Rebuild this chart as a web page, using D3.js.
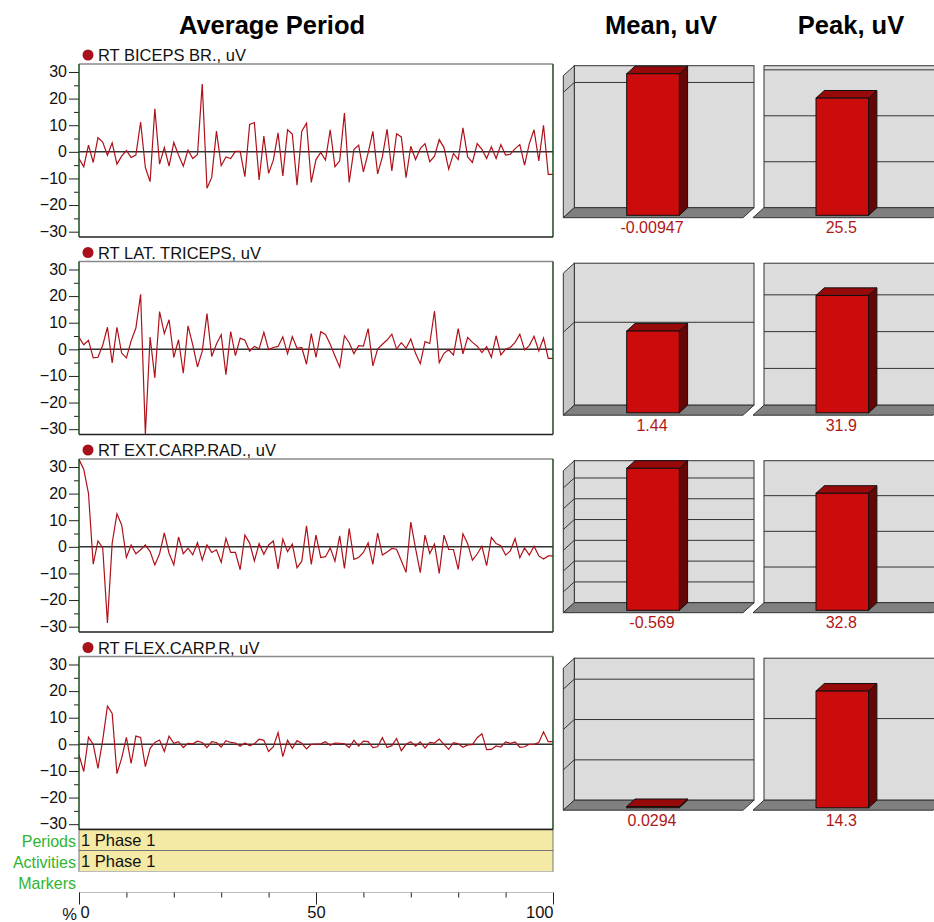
<!DOCTYPE html>
<html>
<head>
<meta charset="utf-8">
<script src="https://cdn.jsdelivr.net/npm/d3@7"></script>
<style>
  html, body { margin: 0; padding: 0; background: #fff; }
  svg { display: block; font-family: Arial, "Liberation Sans", sans-serif; }
</style>
</head>
<body>
<svg id="chart" width="934" height="922"></svg>
<script>
// Channel names (one row each)
const channels = ["RT BICEPS BR., uV", "RT LAT. TRICEPS, uV", "RT EXT.CARP.RAD., uV", "RT FLEX.CARP.R, uV"];

// Averaged waveforms, one value per percent of the period (0..100)
const bicepsValues = [
  -2.5, -5.6, 2.5, -4, 5.3, 3.7, -1.3, 3.4, -4.6, -1.6,
  0.5, -2.1, -1.2, 11.2, -5.9, -11.2, 16.2, -4.6, 1.6, -5.4,
  3.5, -1.2, -5.4, 0.7, -2.5, -1.0, 25.5, -13.7, -9.6, 7.8,
  -5.2, -1.9, -2.5, 0.2, 0.2, -9.3, 10.3, 11, -10.6, 5.9,
  -8.1, -3.1, 7.1, -9.1, 8.3, 6.7, -12.5, 7.8, 10.8, -11.5,
  -2.9, -0.2, -3.1, 8.3, -5.6, -3.4, 14.6, -11.5, 0.9, 2.5,
  -7.5, -0.4, 7.7, -8.3, -1.9, 8.5, -7.2, 6.8, 5.6, -9.7,
  2.1, -2.9, 1.2, 3.1, -3.7, -1.6, 4.6, 1.6, -6.5, -0.6,
  -2.9, 9, -1.9, -4, 3.1, 0.9, -2.5, 1.9, -2.5, 2.7,
  -1.2, -0.9, 1.2, 2.7, -5, 3.1, 8.3, -3.4, 10, -8.5, -8.5
];
const tricepsValues = [
  4.5, 1.7, 3.4, -3.2, -3, 1.5, 8.3, -5.1, 8.3, -1.4,
  -3.2, 3.2, 8, 20.7, -31.9, 4.6, -10.7, 14.2, 5.9, 11.1,
  -3, 3.6, -9, 8.8, 1.7, -6.6, -0.7, 13.4, -2.7, 2,
  5.5, -9.5, 6.7, -2.4, 4.2, 3.4, -0.7, 1.1, 0.2, 6.4,
  -0.1, 0.7, 1.1, 4.7, -1.7, 4.8, 0.4, 0.7, -5.6, 5.9,
  -3, 6.6, 5.6, 1.9, -2.5, -6.7, 5.1, 2.5, -1.6, 1.4,
  1.2, 7.8, -6.2, 0.1, 1.9, 3.5, 5.7, 0.1, 2.5, 0.4,
  3.9, -1.5, -5.4, 2.9, 2.2, 14.4, -5, -1.5, -0.2, -2.1,
  7.8, -1.7, 4.5, 2.6, 1.2, -1.2, 1, -3, 5.1, -2.1,
  0.1, 0.7, 2.6, 5.7, -0.2, 1.4, 4.9, -0.6, 4.2, -3.4, -3.4
];
const extCarpValues = [
  32.8, 29.2, 20.1, -6.5, 2.2, -0.3, -28.6, 1.4, 12.4, 8.2,
  -4, 0.7, -2.6, -1.1, 0.7, -1.8, -6.8, -2.6, 5.2, -2.4,
  -6.8, 3.7, -2.6, -0.5, -3, 1.6, -5, 0.7, -2.1, -1.1,
  -5.8, 3.2, -2.1, -2.1, -8.6, 4.4, 1.4, -5.3, 1.2, -2.8,
  0.7, 2.2, -8.3, 2.9, -1.8, 1, -7.9, -5.4, 7.9, -6.6,
  4.4, -4, -3.7, -0.4, -5.4, 4.1, -8.1, 6.9, -4.7, -4,
  -2.1, 1.5, -6.6, 5.2, -3.1, -1.9, -0.6, -0.9, -5.2, -9.6,
  9.3, -0.6, -9.7, 4.4, -2.5, 1, -10, 4.4, -1, -1,
  -8.5, 4.9, 1.2, -5, -2.7, 0.2, -7.1, 3.5, 1.2, 0.4,
  -3.1, -1.5, 3.1, -4.1, -0.4, -3.1, 0.2, -3.4, -4.6, -3.4, -3.4
];
const flexCarpValues = [
  -4, -10.2, 2.7, 0, -9, 1.6, 14.3, 11.6, -11, -5.2,
  2.6, -7.2, 3.1, 2.6, -8.4, -1.5, 0.7, 1.6, -2.7, 3.1,
  0.4, 1, -1.2, 0.4, 0.2, 1.2, 0.7, -1.2, 1, 0.7,
  -1, 1.4, 0.7, 0.5, -0.7, 0.5, -0.6, 0.2, 1.9, 1.5,
  -2.7, -0.9, 4.4, -4.6, 1.5, -1.5, 1.4, 0.4, -1.7, 0,
  0.1, 0.2, 1, -0.4, 0.5, 0.4, 0.2, -1.2, 1.5, -0.7,
  1.2, 1, -1.2, -0.9, 2.5, -1.2, -0.5, 2.2, -2.4, 0,
  1, -0.7, 0.9, -1.4, 0.7, 0.5, 2, 0, -1.9, 0.6,
  0.2, -1.1, -0.2, -0.1, 2.5, 4, -2, -1.9, -0.6, -1,
  0.9, 0.4, 0.9, -1.1, -0.9, 0, 0, 0.7, 4.7, 1, 1
];
const waveforms = [bicepsValues, tricepsValues, extCarpValues, flexCarpValues];

// Summary values shown in the bar columns
const meanValues = [-0.00947, 1.44, -0.569, 0.0294];
const peakValues = [25.5, 31.9, 32.8, 14.3];
// Each small bar chart has its own vertical axis
const meanAxisMax = [0.0095, 2.5, 0.569, 3.52];
const meanGridStep = [0.00838, 1.46, 0.0833, 1.0];
const peakAxisMax = [30.9, 38.6, 39.8, 17.4];
const peakGridStep = [10, 10, 10, 10];

// Axis ticks
const yTickValues = [30, 20, 10, 0, -10, -20, -30];
const yMinorValues = [25, 15, 5, -5, -15, -25];
const xTickValues = [0, 50, 100];
const xMinorValues = [10, 20, 30, 40, 60, 70, 80, 90];

// Phase rows under the waveforms
const rowLabels = ["Periods", "Activities", "Markers"];
const rowTexts = ["1 Phase 1", "1 Phase 1", ""];

const headers = [
  { text: "Average Period", x: 272 },
  { text: "Mean, uV", x: 661 },
  { text: "Peak, uV", x: 851 }
];

// ---------------- layout ----------------
const svg = d3.select("#chart");
const plotLeft = 79, plotRight = 553;
const plotH = 173, rowPitch = 197.5, firstTop = 64;
const lineColor = "#ae111a";
const fontFamily = "Arial, 'Liberation Sans', sans-serif";

const x = d3.scaleLinear().domain([0, 100]).range([plotLeft, plotRight]);

svg.selectAll("text.header")
  .data(headers)
  .join("text")
  .attr("class", "header")
  .attr("x", d => d.x)
  .attr("y", 34)
  .attr("text-anchor", "middle")
  .attr("font-size", 25.5)
  .attr("font-weight", "bold")
  .attr("fill", "#000")
  .text(d => d.text);

const defs = svg.append("defs");

channels.forEach((name, k) => {
  const top = firstTop + k * rowPitch;
  const y = d3.scaleLinear().domain([-32, 33]).range([top + plotH, top]);
  const g = svg.append("g");

  defs.append("clipPath").attr("id", "clip" + k)
    .append("rect").attr("x", plotLeft).attr("y", top).attr("width", plotRight - plotLeft).attr("height", plotH);

  // plot frame
  g.append("rect").attr("x", plotLeft).attr("y", top).attr("width", plotRight - plotLeft).attr("height", plotH)
    .attr("fill", "#fff");

  // title with channel dot
  g.append("circle").attr("cx", 88).attr("cy", top - 9).attr("r", 5.5).attr("fill", "#a8101a");
  g.append("text").attr("x", 98).attr("y", top - 3).attr("font-size", 16.5).attr("fill", "#111").text(name);

  // y axis
  const yAxis = d3.axisLeft(y).tickValues(yTickValues).tickSize(10).tickPadding(2).tickFormat(d3.format("d"));
  const ax = g.append("g").attr("transform", `translate(${plotLeft},0)`).call(yAxis);
  ax.select(".domain").remove();
  ax.selectAll(".tick line").attr("stroke", "#222");
  ax.selectAll(".tick text").attr("font-size", 16).attr("fill", "#111").attr("font-family", fontFamily)
    .attr("dy", "0.3em");
  const yMinor = d3.axisLeft(y).tickValues(yMinorValues).tickSize(5).tickFormat("");
  const axm = g.append("g").attr("transform", `translate(${plotLeft},0)`).call(yMinor);
  axm.select(".domain").remove();
  axm.selectAll(".tick line").attr("stroke", "#222");

  // zero line
  g.append("line").attr("x1", plotLeft).attr("x2", plotRight).attr("y1", y(0)).attr("y2", y(0))
    .attr("stroke", "#333").attr("stroke-width", 1.5);

  // waveform
  const line = d3.line().x((d, i) => x(i)).y(d => y(d));
  g.append("path").datum(waveforms[k])
    .attr("clip-path", `url(#clip${k})`)
    .attr("d", line).attr("fill", "none").attr("stroke", lineColor).attr("stroke-width", 1.2)
    .attr("stroke-linejoin", "miter");

  // borders: top grey, bottom dark, sides dark green
  g.append("line").attr("x1", plotLeft).attr("x2", plotRight).attr("y1", top).attr("y2", top)
    .attr("stroke", "#8a8a8a").attr("stroke-width", 1.5);
  g.append("line").attr("x1", plotLeft).attr("x2", plotRight).attr("y1", top + plotH).attr("y2", top + plotH)
    .attr("stroke", "#222").attr("stroke-width", 1.5);
  g.append("line").attr("x1", plotLeft).attr("x2", plotLeft).attr("y1", top).attr("y2", top + plotH)
    .attr("stroke", "#1b4a1b").attr("stroke-width", 1.5);
  g.append("line").attr("x1", plotRight).attr("x2", plotRight).attr("y1", top).attr("y2", top + plotH)
    .attr("stroke", "#1b4a1b").attr("stroke-width", 1.5);

  // ---- 3D bar panels ----
  const wallTop = firstTop + 1.7 + k * rowPitch;
  const wallH = 142;
  const depthX = 11, depthY = 10;
  const barW = 52.6, barDX = 8.3, barDY = 7.6;

  function barPanel(backLeft, backRight, withSideWall, value, axisMax, step, barFrontX) {
    const pg = svg.append("g");
    const hScale = d3.scaleLinear().domain([0, axisMax]).range([0, wallH]);
    const wallBottom = wallTop + wallH;

    // back wall
    pg.append("rect").attr("x", backLeft).attr("y", wallTop).attr("width", backRight - backLeft).attr("height", wallH)
      .attr("fill", "#dcdcdc").attr("stroke", "#333").attr("stroke-width", 1);
    if (withSideWall) {
      pg.append("polygon")
        .attr("points", [[backLeft - depthX, wallTop + depthY], [backLeft, wallTop], [backLeft, wallBottom], [backLeft - depthX, wallBottom + depthY]].join(" "))
        .attr("fill", "#c6c6c6").attr("stroke", "#333").attr("stroke-width", 1);
    }
    // floor
    pg.append("polygon")
      .attr("points", [[backLeft, wallBottom], [backRight, wallBottom], [backRight - depthX, wallBottom + depthY], [backLeft - depthX, wallBottom + depthY]].join(" "))
      .attr("fill", "#808080").attr("stroke", "#333").attr("stroke-width", 1);

    // grid lines
    const grid = d3.range(step, axisMax + 1e-12, step).filter(v => v <= axisMax * 0.999);
    grid.forEach(v => {
      const gy = wallBottom - hScale(v);
      pg.append("line").attr("x1", backLeft).attr("x2", backRight).attr("y1", gy).attr("y2", gy)
        .attr("stroke", "#333").attr("stroke-width", 1);
      if (withSideWall) {
        pg.append("line").attr("x1", backLeft - depthX).attr("x2", backLeft).attr("y1", gy + depthY).attr("y2", gy)
          .attr("stroke", "#333").attr("stroke-width", 1);
      }
    });

    // bar
    const h = hScale(Math.abs(value));
    const fb = wallBottom + barDY;      // front bottom
    const ft = fb - h;                  // front top
    pg.append("polygon")
      .attr("points", [[barFrontX + barW, ft], [barFrontX + barW + barDX, ft - barDY], [barFrontX + barW + barDX, wallBottom], [barFrontX + barW, fb]].join(" "))
      .attr("fill", "#650606").attr("stroke", "#111").attr("stroke-width", 1);
    pg.append("polygon")
      .attr("points", [[barFrontX, ft], [barFrontX + barDX, ft - barDY], [barFrontX + barW + barDX, ft - barDY], [barFrontX + barW, ft]].join(" "))
      .attr("fill", "#980a0a").attr("stroke", "#111").attr("stroke-width", 1);
    if (h > 0.5) {
      pg.append("rect").attr("x", barFrontX).attr("y", ft).attr("width", barW).attr("height", h)
        .attr("fill", "#cc0c0c").attr("stroke", "#111").attr("stroke-width", 1);
    }

    // value label
    pg.append("text").attr("x", barFrontX + barW / 2 - 1).attr("y", wallTop + 167.5)
      .attr("text-anchor", "middle").attr("font-size", 16).attr("fill", "#b01818")
      .text(String(value));
  }

  barPanel(574.3, 754, true, meanValues[k], meanAxisMax[k], meanGridStep[k], 626.7);
  barPanel(764, 944, false, peakValues[k], peakAxisMax[k], peakGridStep[k], 816);
});

// ---------------- phase rows and percent axis ----------------
const rowsTop = firstTop + 3 * rowPitch + plotH;
const rowH = 21;
rowLabels.forEach((label, i) => {
  const ry = rowsTop + i * rowH;
  const isPhase = rowTexts[i] !== "";
  svg.append("rect").attr("x", plotLeft).attr("y", ry).attr("width", plotRight - plotLeft).attr("height", rowH)
    .attr("fill", isPhase ? "#f4eaa6" : "#fff").attr("stroke", isPhase ? "#777" : "none").attr("stroke-width", 1);
  svg.append("text").attr("x", 76).attr("y", ry + 17).attr("text-anchor", "end")
    .attr("font-size", 16).attr("fill", "#2fb52f").text(label);
  if (isPhase) {
    svg.append("text").attr("x", plotLeft + 2).attr("y", ry + 16.5).attr("font-size", 16.5).attr("fill", "#111").text(rowTexts[i]);
  }
});
svg.append("line").attr("x1", plotLeft).attr("x2", plotRight).attr("y1", rowsTop).attr("y2", rowsTop)
  .attr("stroke", "#222").attr("stroke-width", 1.5);

const axisY = rowsTop + 3 * rowH;
svg.append("line").attr("x1", plotLeft).attr("x2", plotRight).attr("y1", axisY).attr("y2", axisY)
  .attr("stroke", "#bbb").attr("stroke-width", 1);
const xAxis = d3.axisBottom(x).tickValues(xTickValues).tickSize(12).tickPadding(2).tickFormat(d3.format("d"));
const xa = svg.append("g").attr("transform", `translate(0,${axisY})`).call(xAxis);
xa.select(".domain").remove();
xa.selectAll(".tick line").attr("stroke", "#222");
xa.selectAll(".tick text").attr("font-size", 16.5).attr("fill", "#111")
  .attr("font-family", fontFamily)
  .attr("text-anchor", d => d === 0 ? "start" : (d === 100 ? "end" : "middle"))
  .attr("dx", d => d === 0 ? 1 : 0);
const xMinor = d3.axisBottom(x).tickValues(xMinorValues).tickSize(5).tickFormat("");
const xm = svg.append("g").attr("transform", `translate(0,${axisY})`).call(xMinor);
xm.select(".domain").remove();
xm.selectAll(".tick line").attr("stroke", "#222");
svg.append("text").attr("x", 77).attr("y", axisY + 27).attr("text-anchor", "end")
  .attr("font-size", 16.5).attr("fill", "#111").text("%");
</script>
</body>
</html>
